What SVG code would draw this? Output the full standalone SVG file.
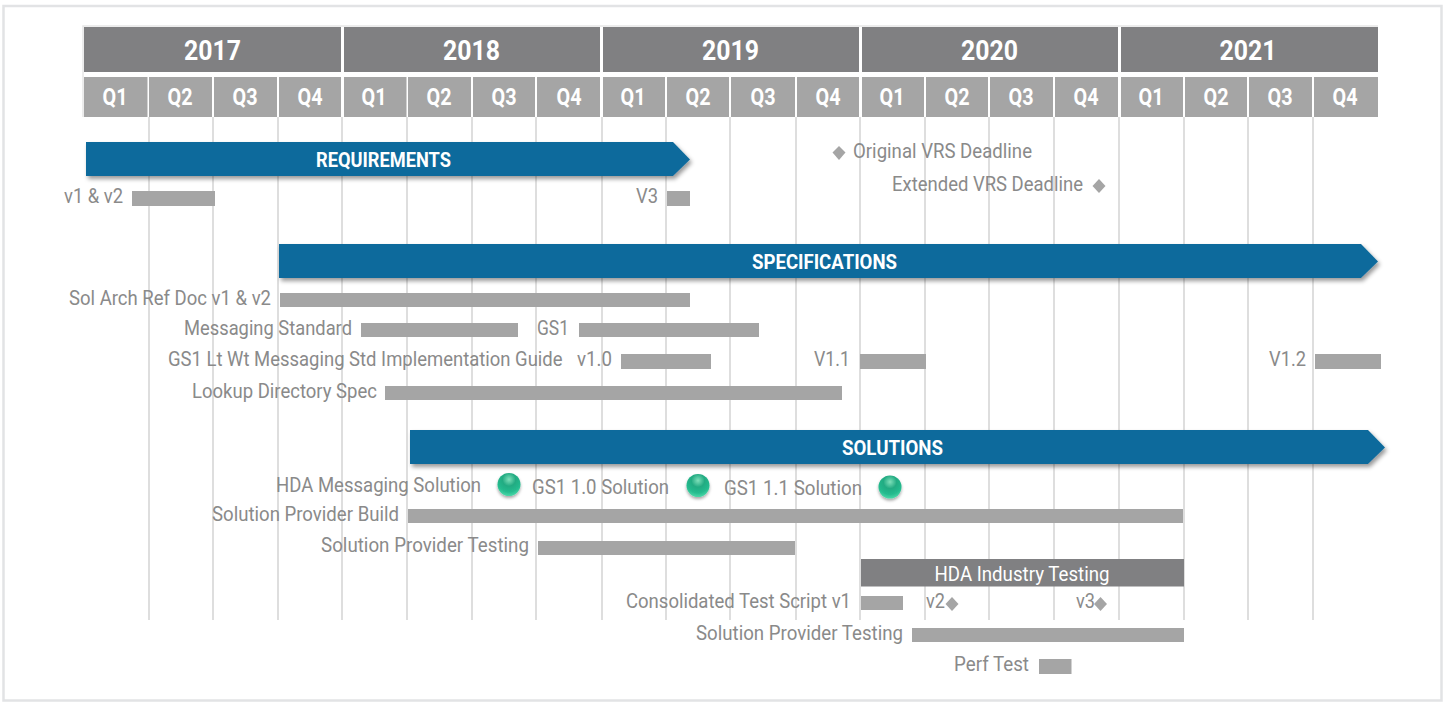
<svg xmlns="http://www.w3.org/2000/svg" width="1445" height="702" viewBox="0 0 1445 702">
<style>
text{font-family:Roboto,"Liberation Sans",sans-serif}
.yr{fill:#808082}.q{fill:#a5a5a5}
.yt{font-size:28px;font-weight:700;fill:#fff;text-anchor:middle}
.qt{font-size:24px;font-weight:700;fill:#fff;text-anchor:middle}
.grid{stroke:#d6d6d6;stroke-width:1.600;fill:none}
.phase{fill:#106b9c;filter:url(#sh)}
.pt{font-size:20px;font-weight:700;fill:#fff;text-anchor:middle}
.bar{fill:#a5a5a5}
.l{font-size:21px;fill:#8a8a8a}
.d{fill:#a5a5a5}
.ball{fill:url(#g);filter:url(#bs)}
</style>
<defs>
<filter id="sh" x="-5%" y="-20%" width="110%" height="150%"><feDropShadow dx="2" dy="3" stdDeviation="2" flood-color="#000" flood-opacity=".4"/></filter>
<filter id="bs" x="-30%" y="-30%" width="160%" height="170%"><feDropShadow dx="0" dy="2" stdDeviation="1.500" flood-color="#000" flood-opacity=".35"/></filter>
<radialGradient id="g" cx=".5" cy=".28" r=".72"><stop offset="0" stop-color="#7fe0ba"/><stop offset=".4" stop-color="#22ab82"/><stop offset=".75" stop-color="#25bb8e"/><stop offset="1" stop-color="#4bd8a8"/></radialGradient>
</defs>
<rect width="1445" height="702" fill="#fff"/>
<rect x="3.500" y="6" width="1438" height="694.500" fill="#fff" stroke="#e2e3e5" stroke-width="2.500"/>
<g id="grid" class="grid">
<path d="M149 117V620M213 117V620M278 117V620M342 117V620M407 117V620M472 117V620M536 117V620M602 117V620M666 117V620M730 117V620M796 117V620M860 117V620M925 117V620M989 117V620M1054 117V620M1119 117V620M1184 117V620M1248 117V620M1313 117V620"/>
<path d="M83 117V26H1378" stroke="#e6e6e6" stroke-width="1.500"/>
</g>
<g id="years">
<rect class="yr" x="84" y="27" width="257" height="45"/><text class="yt" x="212.500" y="60" textLength="57" lengthAdjust="spacingAndGlyphs">2017</text>
<rect class="yr" x="344" y="27" width="256" height="45"/><text class="yt" x="471.500" y="60" textLength="57" lengthAdjust="spacingAndGlyphs">2018</text>
<rect class="yr" x="603" y="27" width="256" height="45"/><text class="yt" x="730.500" y="60" textLength="57" lengthAdjust="spacingAndGlyphs">2019</text>
<rect class="yr" x="862" y="27" width="256" height="45"/><text class="yt" x="989.500" y="60" textLength="57" lengthAdjust="spacingAndGlyphs">2020</text>
<rect class="yr" x="1121" y="27" width="257" height="45"/><text class="yt" x="1248" y="60" textLength="57" lengthAdjust="spacingAndGlyphs">2021</text>
</g>
<g id="quarters">
<rect class="q" x="84" y="77" width="63.500" height="40"/><text class="qt" x="115" y="105" textLength="25" lengthAdjust="spacingAndGlyphs">Q1</text>
<rect class="q" x="149" y="77" width="63" height="40"/><text class="qt" x="180" y="105" textLength="25" lengthAdjust="spacingAndGlyphs">Q2</text>
<rect class="q" x="214" y="77" width="63" height="40"/><text class="qt" x="245" y="105" textLength="25" lengthAdjust="spacingAndGlyphs">Q3</text>
<rect class="q" x="279" y="77" width="62" height="40"/><text class="qt" x="310" y="105" textLength="25" lengthAdjust="spacingAndGlyphs">Q4</text>
<rect class="q" x="344" y="77" width="62.500" height="40"/><text class="qt" x="374" y="105" textLength="25" lengthAdjust="spacingAndGlyphs">Q1</text>
<rect class="q" x="408" y="77" width="63" height="40"/><text class="qt" x="439" y="105" textLength="25" lengthAdjust="spacingAndGlyphs">Q2</text>
<rect class="q" x="473" y="77" width="62" height="40"/><text class="qt" x="504" y="105" textLength="25" lengthAdjust="spacingAndGlyphs">Q3</text>
<rect class="q" x="537" y="77" width="63" height="40"/><text class="qt" x="569" y="105" textLength="25" lengthAdjust="spacingAndGlyphs">Q4</text>
<rect class="q" x="603" y="77" width="62" height="40"/><text class="qt" x="633" y="105" textLength="25" lengthAdjust="spacingAndGlyphs">Q1</text>
<rect class="q" x="667" y="77" width="62" height="40"/><text class="qt" x="698" y="105" textLength="25" lengthAdjust="spacingAndGlyphs">Q2</text>
<rect class="q" x="731" y="77" width="64" height="40"/><text class="qt" x="763" y="105" textLength="25" lengthAdjust="spacingAndGlyphs">Q3</text>
<rect class="q" x="797" y="77" width="62" height="40"/><text class="qt" x="828" y="105" textLength="25" lengthAdjust="spacingAndGlyphs">Q4</text>
<rect class="q" x="862" y="77" width="62" height="40"/><text class="qt" x="892" y="105" textLength="25" lengthAdjust="spacingAndGlyphs">Q1</text>
<rect class="q" x="926" y="77" width="62" height="40"/><text class="qt" x="957" y="105" textLength="25" lengthAdjust="spacingAndGlyphs">Q2</text>
<rect class="q" x="990" y="77" width="63" height="40"/><text class="qt" x="1021" y="105" textLength="25" lengthAdjust="spacingAndGlyphs">Q3</text>
<rect class="q" x="1055" y="77" width="63" height="40"/><text class="qt" x="1086" y="105" textLength="25" lengthAdjust="spacingAndGlyphs">Q4</text>
<rect class="q" x="1121" y="77" width="62" height="40"/><text class="qt" x="1151" y="105" textLength="25" lengthAdjust="spacingAndGlyphs">Q1</text>
<rect class="q" x="1185" y="77" width="62" height="40"/><text class="qt" x="1216" y="105" textLength="25" lengthAdjust="spacingAndGlyphs">Q2</text>
<rect class="q" x="1249" y="77" width="63" height="40"/><text class="qt" x="1280" y="105" textLength="25" lengthAdjust="spacingAndGlyphs">Q3</text>
<rect class="q" x="1314" y="77" width="64" height="40"/><text class="qt" x="1345" y="105" textLength="25" lengthAdjust="spacingAndGlyphs">Q4</text>
</g>
<g id="requirements">
<path class="phase" d="M86 142H673L690 159.500L673 176H86Z"/><text class="pt" x="383.500" y="167" textLength="135" lengthAdjust="spacingAndGlyphs">REQUIREMENTS</text>
<text class="l" x="64" y="203" textLength="59" lengthAdjust="spacingAndGlyphs">v1 &amp; v2</text><rect class="bar" x="132" y="191" width="83" height="15"/>
<text class="l" x="636" y="203" textLength="22" lengthAdjust="spacingAndGlyphs">V3</text><rect class="bar" x="667" y="191" width="23" height="15"/>
</g>
<g id="deadlines">
<path class="d" d="M839 146L845.500 152.500L839 160L832.500 152.500Z"/><text class="l" x="853" y="158" textLength="179" lengthAdjust="spacingAndGlyphs">Original VRS Deadline</text>
<text class="l" x="892" y="190.500" textLength="191" lengthAdjust="spacingAndGlyphs">Extended VRS Deadline</text><path class="d" d="M1099 179L1105.500 186L1099 193L1092.500 186Z"/>
</g>
<g id="specifications">
<path class="phase" d="M279 244H1361L1378 261.500L1361 278H279Z"/><text class="pt" x="824.500" y="268.500" textLength="145" lengthAdjust="spacingAndGlyphs">SPECIFICATIONS</text>
<text class="l" x="69" y="305" textLength="202" lengthAdjust="spacingAndGlyphs">Sol Arch Ref Doc v1 &amp; v2</text><rect class="bar" x="280" y="293" width="410" height="14"/>
<text class="l" x="184" y="334.500" textLength="168" lengthAdjust="spacingAndGlyphs">Messaging Standard</text><rect class="bar" x="361" y="323" width="157" height="14"/>
<text class="l" x="537" y="334.500" textLength="32" lengthAdjust="spacingAndGlyphs">GS1</text><rect class="bar" x="579" y="323" width="180" height="14"/>
<text class="l" transform="translate(168 366) scale(.88 1)">GS1 Lt Wt Messaging Std Implementation Guide</text>
<text class="l" x="577" y="366" textLength="35" lengthAdjust="spacingAndGlyphs">v1.0</text><rect class="bar" x="621" y="354" width="90" height="15"/>
<text class="l" x="814" y="366" textLength="36" lengthAdjust="spacingAndGlyphs">V1.1</text><rect class="bar" x="860" y="354" width="66" height="15"/>
<text class="l" x="1269" y="366" textLength="37" lengthAdjust="spacingAndGlyphs">V1.2</text><rect class="bar" x="1315" y="354" width="66" height="15"/>
<text class="l" x="192" y="398" textLength="185" lengthAdjust="spacingAndGlyphs">Lookup Directory Spec</text><rect class="bar" x="385" y="386" width="457" height="14"/>
</g>
<g id="solutions">
<path class="phase" d="M410 430H1368L1385 447.500L1368 464H410Z"/><text class="pt" x="892.500" y="454.500" textLength="101" lengthAdjust="spacingAndGlyphs">SOLUTIONS</text>
<text class="l" x="276" y="492" textLength="205" lengthAdjust="spacingAndGlyphs">HDA Messaging Solution</text><circle class="ball" cx="509" cy="484.500" r="11.500"/>
<text class="l" x="532" y="494" textLength="137" lengthAdjust="spacingAndGlyphs">GS1 1.0 Solution</text><circle class="ball" cx="698" cy="485.500" r="11.500"/>
<text class="l" x="724" y="495" textLength="138" lengthAdjust="spacingAndGlyphs">GS1 1.1 Solution</text><circle class="ball" cx="890" cy="487" r="11.500"/>
<text class="l" x="212" y="520.500" textLength="187" lengthAdjust="spacingAndGlyphs">Solution Provider Build</text><rect class="bar" x="408" y="509" width="775" height="14"/>
<text class="l" x="321" y="551.500" textLength="208" lengthAdjust="spacingAndGlyphs">Solution Provider Testing</text><rect class="bar" x="538" y="541" width="257" height="14"/>
</g>
<g id="hda-testing">
<rect x="861" y="559" width="323" height="27.500" fill="#808082"/><text x="1022" y="581" font-size="20" fill="#fff" text-anchor="middle" textLength="175" lengthAdjust="spacingAndGlyphs">HDA Industry Testing</text>
<text class="l" x="626" y="607.500" textLength="225" lengthAdjust="spacingAndGlyphs">Consolidated Test Script v1</text><rect class="bar" x="861" y="596" width="42" height="14"/>
<text class="l" x="926" y="607.500" textLength="19" lengthAdjust="spacingAndGlyphs">v2</text><path class="d" d="M952 597L958.500 604L952 611L945.500 604Z"/>
<text class="l" x="1076" y="607.500" textLength="19" lengthAdjust="spacingAndGlyphs">v3</text><path class="d" d="M1100.500 597L1107 604L1100.500 611L1094 604Z"/>
<text class="l" x="696" y="639.500" textLength="207" lengthAdjust="spacingAndGlyphs">Solution Provider Testing</text><rect class="bar" x="912" y="628" width="272" height="14"/>
<text class="l" x="954" y="671" textLength="75" lengthAdjust="spacingAndGlyphs">Perf Test</text><rect class="bar" x="1039" y="659" width="32.500" height="15"/>
</g>
</svg>
